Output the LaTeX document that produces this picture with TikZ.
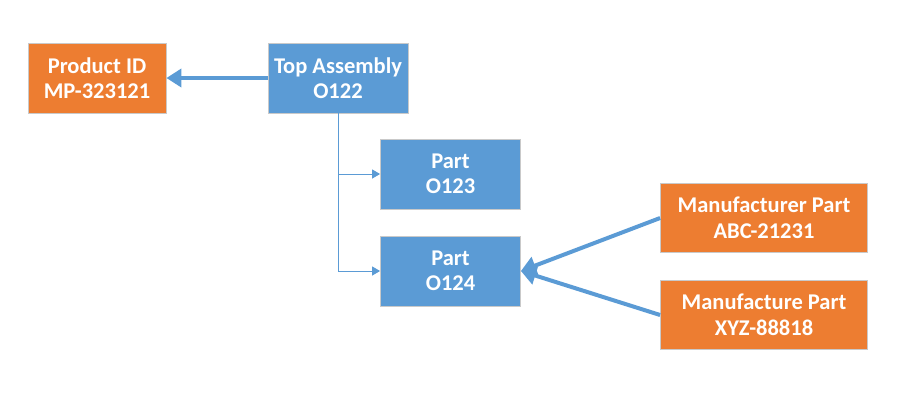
\documentclass[tikz,border=0pt]{standalone}
\usepackage{fontspec}
\setmainfont{Carlito}
\usetikzlibrary{arrows.meta}
\definecolor{orng}{HTML}{ED7D31}
\definecolor{blu}{HTML}{5B9BD5}
\definecolor{bord}{HTML}{C9C9C9}
\begin{document}
\begin{tikzpicture}[x=1pt,y=1pt,
  box/.style={draw=bord,line width=0.8pt,inner sep=0pt,text=white,
    font=\fontsize{22.5}{25.5}\selectfont\bfseries,align=center},
  obox/.style={box,fill=orng},
  bbox/.style={box,fill=blu},
  thick arrow/.style={draw=blu,line width=4pt,-{Triangle[length=15pt,width=18pt]}},
  thin arrow/.style={draw=blu,line width=1pt,-{Triangle[length=8pt,width=9pt]}}]
\useasboundingbox (0,0) rectangle (919,-400);
\node[obox,minimum width=138pt,minimum height=70pt] (pid) at (97,-78) {Product ID\\MP-323121};
\node[bbox,minimum width=140pt,minimum height=70pt] (top) at (338,-78) {Top Assembly\\O122};
\node[bbox,minimum width=140pt,minimum height=70pt] (p123) at (450.5,-174) {Part\\O123};
\node[bbox,minimum width=140pt,minimum height=70pt] (p124) at (450.5,-271) {Part\\O124};
\node[obox,minimum width=207pt,minimum height=69pt] (m1) at (764,-218) {Manufacturer Part\\ABC-21231};
\node[obox,minimum width=207pt,minimum height=69pt] (m2) at (764,-315) {Manufacture Part\\XYZ-88818};
\draw[thick arrow] (top.west) -- (pid.east);
\draw[thin arrow] (top.south) |- (p123.west);
\draw[thin arrow] (top.south) |- (p124.west);
\draw[thick arrow] (m1.west) -- (p124.east);
\draw[thick arrow] (m2.west) -- (p124.east);
\end{tikzpicture}
\end{document}
